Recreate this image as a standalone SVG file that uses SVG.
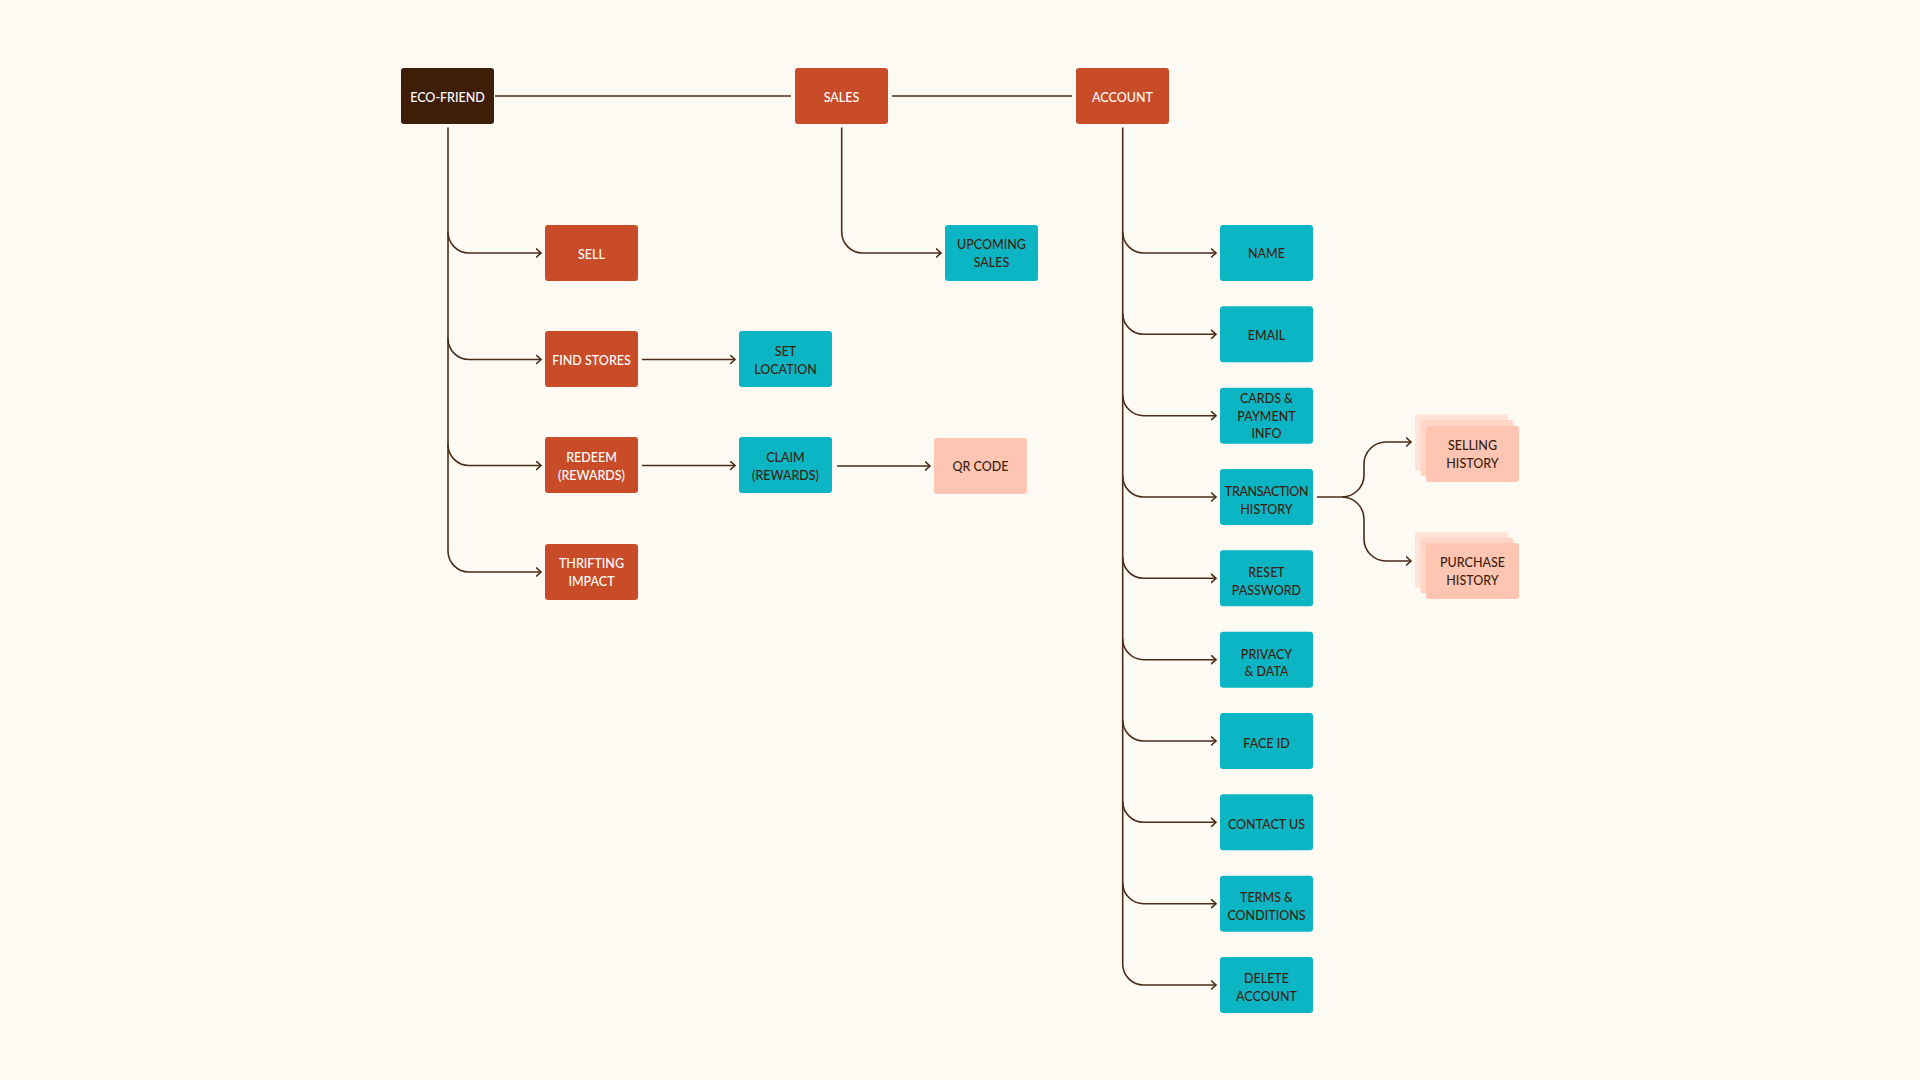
<svg xmlns="http://www.w3.org/2000/svg" width="1920" height="1080" viewBox="0 0 1920 1080">
<defs>
<style>
.bg{fill:#FCFAF3}
.n rect{rx:3px;ry:3px}
.dark{fill:#3F1E08}
.org{fill:#C94C28}
.teal{fill:#0BB5C4}
.pink{fill:#FFC5B3}
.pk2{fill:#FFD5C7}
.pk3{fill:#FFE2D8}
text{font-family:Lato,"Open Sans","Liberation Sans",sans-serif;font-size:12.5px;font-weight:500;text-anchor:middle}
.w{fill:#FFFFFF}
.d{fill:#3A1F0E}
.tight{letter-spacing:-0.35px}
.c path,.c line{fill:none;stroke:#4A2C18;stroke-width:1.6}
</style>
<marker id="arr" markerUnits="userSpaceOnUse" markerWidth="10" markerHeight="12" refX="5.5" refY="5" orient="auto">
<path d="M0.5,0.5 L5.5,5 L0.5,9.5" fill="none" stroke="#4A2C18" stroke-width="1.6"/>
</marker>
</defs>
<rect class="bg" x="0" y="0" width="1920" height="1080"/>

<g class="c" id="connectors">
<line x1="495" y1="96" x2="791" y2="96"/>
<line x1="892" y1="96" x2="1072" y2="96"/>
<path d="M448,127.5 V551 A21,21 0 0 0 469,572 H541" marker-end="url(#arr)"/>
<path d="M448,232 A21,21 0 0 0 469,253 H541" marker-end="url(#arr)"/>
<path d="M448,338.5 A21,21 0 0 0 469,359.5 H541" marker-end="url(#arr)"/>
<path d="M448,444.5 A21,21 0 0 0 469,465.5 H541" marker-end="url(#arr)"/>
<line x1="642" y1="359.5" x2="735" y2="359.5" marker-end="url(#arr)"/>
<line x1="642" y1="465.5" x2="735" y2="465.5" marker-end="url(#arr)"/>
<line x1="837" y1="466" x2="930" y2="466" marker-end="url(#arr)"/>
<path d="M841.7,127.5 V232 A21,21 0 0 0 862.7,253 H941" marker-end="url(#arr)"/>
<path d="M1122.7,127.5 V964 A21,21 0 0 0 1143.7,985 H1216" marker-end="url(#arr)"/>
<path d="M1122.7,232 A21,21 0 0 0 1143.7,253 H1216" marker-end="url(#arr)"/>
<path d="M1122.7,313.3 A21,21 0 0 0 1143.7,334.3 H1216" marker-end="url(#arr)"/>
<path d="M1122.7,394.7 A21,21 0 0 0 1143.7,415.7 H1216" marker-end="url(#arr)"/>
<path d="M1122.7,476 A21,21 0 0 0 1143.7,497 H1216" marker-end="url(#arr)"/>
<path d="M1122.7,557.3 A21,21 0 0 0 1143.7,578.3 H1216" marker-end="url(#arr)"/>
<path d="M1122.7,638.7 A21,21 0 0 0 1143.7,659.7 H1216" marker-end="url(#arr)"/>
<path d="M1122.7,720 A21,21 0 0 0 1143.7,741 H1216" marker-end="url(#arr)"/>
<path d="M1122.7,801.3 A21,21 0 0 0 1143.7,822.3 H1216" marker-end="url(#arr)"/>
<path d="M1122.7,882.7 A21,21 0 0 0 1143.7,903.7 H1216" marker-end="url(#arr)"/>
<path d="M1317,497 H1342 A22,22 0 0 0 1364,475 V464 A22,22 0 0 1 1386,442 H1411" marker-end="url(#arr)"/>
<path d="M1342,497 A22,22 0 0 1 1364,519 V539 A22,22 0 0 0 1386,561 H1411" marker-end="url(#arr)"/>
</g>

<g id="eco-friend" class="n"><rect class="dark" x="401" y="68" width="93" height="56"/><text class="w" x="447.5" y="101.7">ECO-FRIEND</text></g>
<g id="sales" class="n"><rect class="org" x="795" y="68" width="93" height="56"/><text class="w" x="841.5" y="101.5">SALES</text></g>
<g id="account" class="n"><rect class="org" x="1076" y="68" width="93" height="56"/><text class="w" x="1122.5" y="101.9">ACCOUNT</text></g>

<g id="sell" class="n"><rect class="org" x="545" y="225" width="93" height="56"/><text class="w" x="591.5" y="258.5">SELL</text></g>
<g id="find-stores" class="n"><rect class="org" x="545" y="331" width="93" height="56"/><text class="w" x="591.5" y="364.5">FIND STORES</text></g>
<g id="redeem" class="n"><rect class="org" x="545" y="437" width="93" height="56"/><text class="w" x="591.5" y="461.9">REDEEM</text><text class="w" x="591.5" y="479.7">(REWARDS)</text></g>
<g id="thrifting" class="n"><rect class="org" x="545" y="544" width="93" height="56"/><text class="w" x="591.5" y="567.9">THRIFTING</text><text class="w" x="591.5" y="585.7">IMPACT</text></g>

<g id="set-location" class="n"><rect class="teal" x="739" y="331" width="93" height="56"/><text class="d" x="785.5" y="356.1">SET</text><text class="d" x="785.5" y="373.9">LOCATION</text></g>
<g id="claim" class="n"><rect class="teal" x="739" y="437" width="93" height="56"/><text class="d" x="785.5" y="461.9">CLAIM</text><text class="d" x="785.5" y="479.7">(REWARDS)</text></g>
<g id="qr-code" class="n"><rect class="pink" x="934" y="438" width="93" height="56"/><text class="d" x="980.5" y="471.2">QR CODE</text></g>
<g id="upcoming-sales" class="n"><rect class="teal" x="945" y="225" width="93" height="56"/><text class="d" x="991.5" y="249.4">UPCOMING</text><text class="d" x="991.5" y="267.2">SALES</text></g>

<g id="name" class="n"><rect class="teal" x="1220" y="225" width="93" height="56"/><text class="d" x="1266.5" y="258.2">NAME</text></g>
<g id="email" class="n"><rect class="teal" x="1220" y="306.3" width="93" height="56"/><text class="d" x="1266.5" y="340.3">EMAIL</text></g>
<g id="cards" class="n"><rect class="teal" x="1220" y="387.7" width="93" height="56"/><text class="d" x="1266.5" y="402.8">CARDS &amp;</text><text class="d" x="1266.5" y="420.5">PAYMENT</text><text class="d" x="1266.5" y="438.2">INFO</text></g>
<g id="transaction-history" class="n"><rect class="teal" x="1220" y="469" width="93" height="56"/><text class="d tight" x="1266.5" y="496.1">TRANSACTION</text><text class="d" x="1266.5" y="513.9">HISTORY</text></g>
<g id="reset-password" class="n"><rect class="teal" x="1220" y="550.3" width="93" height="56"/><text class="d" x="1266.5" y="577.3">RESET</text><text class="d" x="1266.5" y="595.1">PASSWORD</text></g>
<g id="privacy" class="n"><rect class="teal" x="1220" y="631.7" width="93" height="56"/><text class="d" x="1266.5" y="658.6">PRIVACY</text><text class="d" x="1266.5" y="676.4">&amp; DATA</text></g>
<g id="face-id" class="n"><rect class="teal" x="1220" y="713" width="93" height="56"/><text class="d" x="1266.5" y="747.8">FACE ID</text></g>
<g id="contact-us" class="n"><rect class="teal" x="1220" y="794.3" width="93" height="56"/><text class="d" x="1266.5" y="828.8">CONTACT US</text></g>
<g id="terms" class="n"><rect class="teal" x="1220" y="875.7" width="93" height="56"/><text class="d" x="1266.5" y="902.1">TERMS &amp;</text><text class="d" x="1266.5" y="919.9">CONDITIONS</text></g>
<g id="delete-account" class="n"><rect class="teal" x="1220" y="957" width="93" height="56"/><text class="d" x="1266.5" y="983.1">DELETE</text><text class="d" x="1266.5" y="1000.9">ACCOUNT</text></g>

<g id="selling-history" class="n">
<rect class="pk3" x="1415" y="414.5" width="93" height="56"/>
<rect class="pk2" x="1420.5" y="420" width="93" height="56"/>
<rect class="pink" x="1426" y="426" width="93" height="56"/>
<text class="d" x="1472.5" y="450.4">SELLING</text><text class="d" x="1472.5" y="468.2">HISTORY</text>
</g>
<g id="purchase-history" class="n">
<rect class="pk3" x="1415" y="532" width="93" height="56"/>
<rect class="pk2" x="1420.5" y="537.5" width="93" height="56"/>
<rect class="pink" x="1426" y="543" width="93" height="56"/>
<text class="d" x="1472.5" y="567.4">PURCHASE</text><text class="d" x="1472.5" y="585.2">HISTORY</text>
</g>
</svg>
